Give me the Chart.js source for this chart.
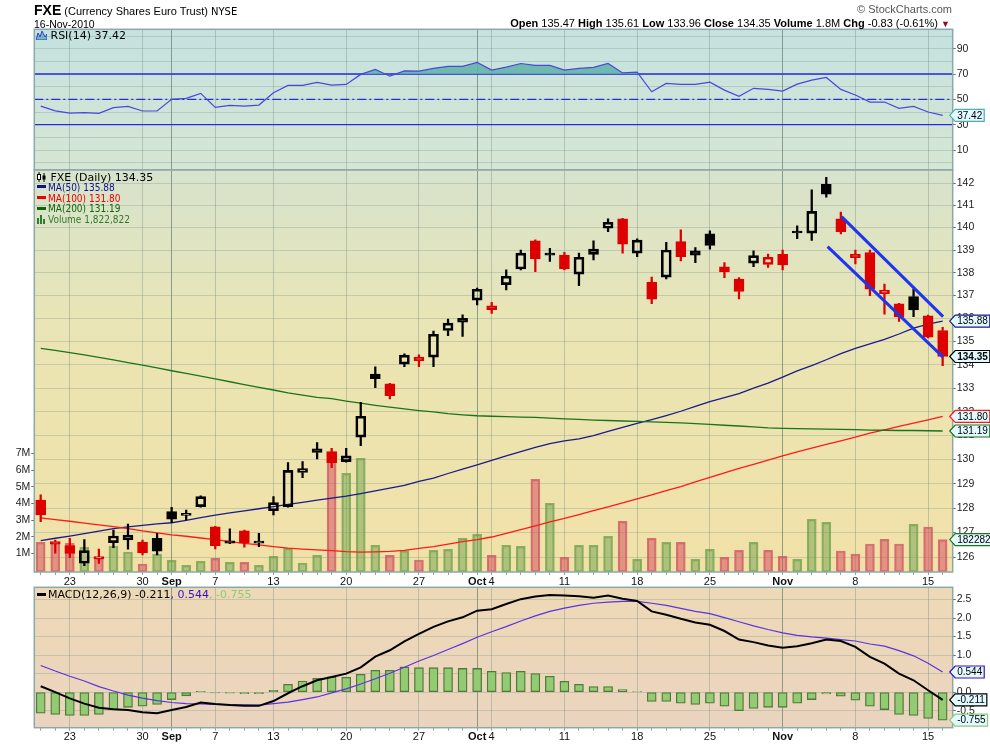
<!DOCTYPE html>
<html>
<head>
<meta charset="utf-8">
<title>FXE</title>
<script src="https://cdn.jsdelivr.net/npm/chart.js@4.4.0/dist/chart.umd.min.js"></script>
<style>
  body { margin:0; width:990px; height:744px; overflow:hidden; background:#fff; position:relative;
         font-family:"Liberation Sans", Arial, sans-serif; color:#000; }
  .pane { position:absolute; left:0; width:990px; }
  .t { position:absolute; white-space:nowrap; z-index:5; }
  .dv { font-family:"DejaVu Sans", Verdana, sans-serif; }
  .dc { font-family:"DejaVu Sans Condensed", "DejaVu Sans", sans-serif; font-size:10px; }
  .sw { display:inline-block; width:9px; height:3px; vertical-align:middle; margin-right:2px; position:relative; top:-1px; }
  .lg div { height:10.9px; line-height:10.9px; }
</style>
</head>
<body>
<div class="t" style="left:34px;top:2px;font-size:11px"><b style="font-size:14px">FXE</b> (Currency Shares Euro Trust) <span class="dv" style="font-size:10px">NYSE</span></div>
<div class="t" style="left:34px;top:18px;font-size:10.5px">16-Nov-2010</div>
<div class="t" style="right:38px;top:3px;font-size:11px;color:#555">&copy; StockCharts.com</div>
<div class="t" id="ohlc" style="right:40px;top:17px;font-size:11px"></div>

<div class="t dv" id="lgRsi" style="left:36px;top:29px;font-size:11px"></div>
<div class="t lg" id="lgPrice" style="left:37px;top:171.8px"></div>
<div class="t dv" id="lgMacd" style="left:37px;top:588px;font-size:11px"></div>

<div class="pane" style="top:0;height:171px"><canvas id="cRsi"></canvas></div>
<div class="pane" style="top:169px;height:430px"><canvas id="cPrice"></canvas></div>
<div class="pane" style="top:586px;height:158px"><canvas id="cMacd"></canvas></div>

<script>
// trading days shown
const days = ['Aug 19','Aug 20','Aug 23','Aug 24','Aug 25','Aug 26','Aug 27','Aug 30','Aug 31',
  'Sep 1','Sep 2','Sep 3','Sep 7','Sep 8','Sep 9','Sep 10','Sep 13','Sep 14','Sep 15','Sep 16','Sep 17',
  'Sep 20','Sep 21','Sep 22','Sep 23','Sep 24','Sep 27','Sep 28','Sep 29','Sep 30',
  'Oct 1','Oct 4','Oct 5','Oct 6','Oct 7','Oct 8','Oct 11','Oct 12','Oct 13','Oct 14','Oct 15',
  'Oct 18','Oct 19','Oct 20','Oct 21','Oct 22','Oct 25','Oct 26','Oct 27','Oct 28','Oct 29',
  'Nov 1','Nov 2','Nov 3','Nov 4','Nov 5','Nov 8','Nov 9','Nov 10','Nov 11','Nov 12','Nov 15','Nov 16'];

const xTickIdx = [2, 7, 9, 12, 16, 21, 26, 30, 31, 36, 41, 46, 51, 56, 61];
const xTickTxt = ['23','30','Sep','7','13','20','27','Oct','4','11','18','25','Nov','8','15'];
const monthNames = ['Sep','Oct','Nov'];

const opens = [128.33,126.53,126.47,125.76,125.94,126.59,126.70,126.61,126.77,127.85,
  127.70,128.06,127.23,126.57,127.07,126.57,127.89,128.06,129.46,130.44,
  130.33,129.91,130.93,133.60,133.18,134.02,134.33,134.32,135.47,136.00,
  136.79,136.54,137.47,138.16,139.41,138.83,138.78,137.93,138.81,139.97,
  140.39,138.86,137.58,137.80,139.37,138.96,139.72,138.26,137.72,138.42,
  138.36,138.81,139.82,139.75,141.95,140.39,138.82,138.89,137.08,136.63,
  136.95,136.11,135.47];
const highs = [128.54,126.70,126.77,126.72,126.33,127.10,127.35,126.70,126.97,128.03,
  127.92,128.50,127.25,127.15,127.10,126.97,128.47,129.87,129.91,130.70,
  130.47,130.47,132.40,133.91,133.20,134.46,134.42,135.45,135.97,136.15,
  137.32,136.70,138.12,139.00,139.45,139.08,138.90,138.86,139.41,140.39,
  140.42,139.50,137.80,139.34,139.90,139.11,139.85,138.44,137.78,138.96,
  138.82,139.00,140.08,141.70,142.27,140.69,139.00,139.00,137.49,136.65,
  137.28,136.14,135.61];
const lows = [127.44,126.17,125.99,125.66,125.75,126.39,126.33,126.10,126.10,127.40,
  127.51,128.04,126.34,126.55,126.41,126.43,127.72,128.04,129.25,130.02,
  129.66,129.89,130.58,133.02,132.54,133.91,133.91,133.91,135.25,135.21,
  136.58,136.21,137.24,138.12,138.04,138.49,138.12,137.43,138.56,139.82,
  138.86,138.70,136.64,137.72,138.52,138.44,139.04,137.78,136.85,138.26,
  138.23,138.12,139.50,139.43,141.37,139.72,138.38,136.99,136.18,135.86,
  136.07,135.15,133.96];
const closes = [127.72,126.63,126.16,126.27,126.03,126.86,126.90,126.19,126.25,127.54,
  127.76,128.47,126.47,126.67,126.57,126.65,128.22,129.55,129.62,130.29,
  129.87,130.15,131.81,133.40,132.68,134.41,134.17,135.31,135.79,135.83,
  137.27,136.38,137.84,138.86,138.61,138.77,138.16,138.68,139.04,140.24,
  139.26,139.44,136.83,139.00,138.71,138.77,139.20,138.04,137.17,138.75,
  138.68,138.34,139.76,140.73,141.50,139.82,138.66,137.27,137.23,136.07,
  136.37,135.18,134.35];
const priorClose = 128.30;

// volume, millions of shares
const volumeM = [1.66,1.66,1.60,1.36,0.70,1.44,1.08,0.36,0.96,0.58,
  0.28,0.52,0.70,0.46,0.46,0.28,0.82,1.30,0.42,0.88,
  7.04,5.80,6.70,1.48,0.88,1.16,0.60,1.18,1.24,1.90,
  2.14,0.88,1.48,1.42,5.44,4.00,0.76,1.48,1.48,2.02,
  2.92,0.64,1.90,1.66,1.66,0.64,1.24,0.76,1.18,1.66,
  1.18,0.82,0.64,3.04,2.86,1.14,0.96,1.56,1.84,1.56,
  2.74,2.58,1.822822];
const lastVolume = 1822822;

const ma50 = [126.67,126.77,126.86,126.96,127.06,127.16,127.23,127.29,127.35,127.40,
  127.50,127.61,127.71,127.80,127.88,127.97,128.06,128.15,128.23,128.32,
  128.41,128.49,128.59,128.70,128.82,128.93,129.09,129.23,129.42,129.60,
  129.78,129.96,130.15,130.33,130.51,130.66,130.78,130.86,131.00,131.17,
  131.34,131.51,131.67,131.84,132.02,132.23,132.43,132.60,132.77,133.00,
  133.21,133.47,133.73,133.96,134.21,134.47,134.70,134.89,135.09,135.32,
  135.57,135.75,135.88];
const ma100 = [127.60,127.53,127.46,127.38,127.31,127.24,127.16,127.07,126.99,126.91,
  126.85,126.78,126.71,126.63,126.56,126.50,126.43,126.37,126.33,126.30,
  126.27,126.23,126.21,126.22,126.24,126.28,126.36,126.43,126.53,126.63,
  126.71,126.82,126.97,127.12,127.27,127.43,127.58,127.73,127.89,128.05,
  128.21,128.37,128.54,128.71,128.88,129.07,129.26,129.45,129.63,129.80,
  129.97,130.15,130.32,130.47,130.63,130.78,130.93,131.10,131.24,131.38,
  131.52,131.66,131.80];
const ma200 = [134.70,134.61,134.52,134.42,134.31,134.21,134.09,133.98,133.86,133.74,
  133.63,133.51,133.39,133.27,133.15,133.03,132.92,132.80,132.70,132.61,
  132.55,132.45,132.36,132.27,132.19,132.12,132.05,131.99,131.92,131.87,
  131.83,131.81,131.79,131.77,131.76,131.73,131.70,131.68,131.65,131.63,
  131.61,131.59,131.57,131.55,131.53,131.50,131.47,131.43,131.40,131.36,
  131.32,131.30,131.29,131.28,131.27,131.26,131.25,131.23,131.22,131.21,
  131.21,131.20,131.19];

const rsi14 = [44.7,40.9,39.2,39.5,39.0,43.5,44.5,40.8,40.8,50.0,
  50.8,54.7,43.7,45.3,44.7,45.5,55.2,61.0,61.0,63.4,
  61.3,61.8,69.7,73.6,68.3,72.5,72.3,74.4,76.0,76.0,
  79.1,73.1,75.4,78.3,76.8,76.8,73.1,74.4,75.2,78.3,
  70.9,71.5,56.0,62.6,61.8,61.8,63.6,57.3,52.4,58.7,
  57.9,56.5,62.0,65.2,67.3,57.9,53.4,47.9,47.9,42.9,
  44.5,40.0,37.42];

const macdLine = [0.16,0.00,-0.17,-0.31,-0.42,-0.46,-0.48,-0.54,-0.57,-0.48,
  -0.40,-0.28,-0.32,-0.35,-0.37,-0.37,-0.24,-0.03,0.16,0.32,
  0.41,0.50,0.67,0.96,1.13,1.37,1.57,1.76,1.91,2.02,
  2.20,2.24,2.38,2.51,2.58,2.62,2.61,2.59,2.55,2.61,
  2.52,2.46,2.18,2.09,1.98,1.88,1.82,1.65,1.42,1.35,
  1.26,1.20,1.24,1.32,1.42,1.38,1.22,0.95,0.77,0.50,
  0.32,0.05,-0.211];
const macdSignal = [0.72,0.57,0.43,0.30,0.15,0.03,-0.08,-0.16,-0.23,-0.28,
  -0.31,-0.32,-0.33,-0.34,-0.34,-0.35,-0.31,-0.27,-0.20,-0.13,
  -0.02,0.09,0.22,0.36,0.51,0.67,0.84,0.99,1.15,1.31,
  1.48,1.63,1.77,1.92,2.06,2.18,2.27,2.34,2.40,2.43,
  2.45,2.45,2.40,2.34,2.26,2.18,2.12,2.01,1.90,1.79,
  1.69,1.60,1.53,1.49,1.46,1.42,1.38,1.30,1.24,1.12,
  0.98,0.78,0.544];
const macdHist = [-0.57,-0.60,-0.63,-0.63,-0.60,-0.47,-0.41,-0.38,-0.33,-0.20,
  -0.10,0.02,-0.02,-0.03,-0.04,-0.04,0.05,0.21,0.30,0.37,
  0.41,0.40,0.48,0.59,0.59,0.68,0.66,0.66,0.66,0.64,
  0.64,0.56,0.53,0.56,0.50,0.43,0.29,0.21,0.15,0.15,
  0.07,0.01,-0.25,-0.25,-0.30,-0.33,-0.30,-0.38,-0.50,-0.44,
  -0.41,-0.41,-0.30,-0.20,-0.05,-0.11,-0.22,-0.38,-0.47,-0.60,
  -0.63,-0.71,-0.755];

// hand-drawn channel (day index, price)
const channelUpper = [[55.05, 140.49], [62.03, 136.07]];
const channelLower = [[54.09, 139.15], [62.03, 134.32]];

const priceTicks = [126,127,128,129,130,131,132,133,134,135,136,137,138,139,140,141,142];
const volTicks = [1,2,3,4,5,6,7];
const rsiGrid = [0,10,20,30,40,50,60,70,80,90,100];
const rsiLabels = [10,30,50,70,90];
const macdTicks = [-0.5,0,0.5,1,1.5,2,2.5];

const C = {
  frame: '#8CA8A8',
  gridH: 'rgba(120,142,132,0.30)',
  gridV: 'rgba(120,142,132,0.40)',
  gridM: 'rgba(100,126,116,0.70)',
  red: '#DD0000', black: '#000000'
};

const last = days.length - 1;
const xs = days.map((d, i) => i);
const upDay = xs.map(i => closes[i] >= (i ? closes[i - 1] : priorClose));
const candleCol = upDay.map(u => (u ? C.black : C.red));
const pts = arr => xs.map(i => ({ x: i, y: arr[i] }));

// ---------- header + legends ----------
const chg = closes[last] - closes[last - 1];
document.getElementById('ohlc').innerHTML =
  '<b>Open</b> ' + opens[last].toFixed(2) + ' <b>High</b> ' + highs[last].toFixed(2) +
  ' <b>Low</b> ' + lows[last].toFixed(2) + ' <b>Close</b> ' + closes[last].toFixed(2) +
  ' <b>Volume</b> ' + volumeM[last].toFixed(1) + 'M <b>Chg</b> ' + chg.toFixed(2) +
  ' (' + (chg / closes[last - 1] * 100).toFixed(2) + '%) <span style="color:#8B0A2A;font-size:9px">&#9660;</span>';

document.getElementById('lgRsi').innerHTML =
  '<svg width="11" height="10" style="vertical-align:-1px"><path d="M0 10 L2 3 L4 7 L6 1 L9 7 L11 4 L11 10 Z" fill="#6DBDB5" stroke="#3A3ADC" stroke-width="1"/></svg> RSI(14) ' +
  rsi14[last].toFixed(2);

const fmtInt = n => String(n).replace(/\B(?=(\d{3})+(?!\d))/g, ',');
document.getElementById('lgPrice').innerHTML =
  '<div class="dv" style="font-size:11px"><svg width="10" height="10" style="vertical-align:-1px"><path d="M2 0v10M7 1v9" stroke="#000"/><rect x="0.5" y="2.5" width="3" height="5" fill="#fff" stroke="#000"/><rect x="5.5" y="3.5" width="3" height="4" fill="#000"/></svg> FXE (Daily) ' + closes[last].toFixed(2) + '</div>' +
  '<div class="dc" style="color:#101088"><span class="sw" style="background:#101088"></span>MA(50) ' + ma50[last].toFixed(2) + '</div>' +
  '<div class="dc" style="color:#EE0000"><span class="sw" style="background:#EE0000"></span>MA(100) ' + ma100[last].toFixed(2) + '</div>' +
  '<div class="dc" style="color:#0B650B"><span class="sw" style="background:#0B650B"></span>MA(200) ' + ma200[last].toFixed(2) + '</div>' +
  '<div class="dc" style="color:#2E7A2E"><svg width="9" height="9" style="vertical-align:-1px;margin-right:2px"><rect x="0" y="3" width="2" height="6" fill="#2E7A2E"/><rect x="3" y="0" width="2" height="9" fill="#2E7A2E"/><rect x="6" y="4" width="2" height="5" fill="#2E7A2E"/></svg>Volume ' + fmtInt(lastVolume) + '</div>';

document.getElementById('lgMacd').innerHTML =
  '<span class="sw" style="background:#000"></span>MACD(12,26,9) ' + macdLine[last].toFixed(3) +
  '<span style="color:#3311CC">, ' + macdSignal[last].toFixed(3) + '</span>' +
  '<span style="color:#8CCB78">, ' + macdHist[last].toFixed(3) + '</span>';

// ---------- plugins ----------
const panelBg = {
  id: 'panelBg',
  beforeDraw(chart, args, o) {
    const { ctx, chartArea: a } = chart;
    const g = ctx.createLinearGradient(0, a.top, 0, a.bottom);
    o.stops.forEach(s => g.addColorStop(s[0], s[1]));
    ctx.save();
    ctx.fillStyle = g;
    ctx.fillRect(a.left, a.top, a.width, a.height);
    ctx.restore();
  },
  afterDatasetsDraw(chart) {
    const { ctx, chartArea: a } = chart;
    ctx.save();
    ctx.strokeStyle = C.frame;
    ctx.lineWidth = 1.5;
    ctx.strokeRect(a.left, a.top, a.width, a.height);
    ctx.restore();
  }
};

const levels = {
  id: 'levels',
  beforeDatasetsDraw(chart, args, o) {
    const { ctx, chartArea: a } = chart;
    const s = chart.scales.y;
    o.lines.forEach(l => {
      const y = s.getPixelForValue(l.v);
      ctx.save();
      ctx.strokeStyle = l.c;
      ctx.lineWidth = 1.3;
      ctx.setLineDash(l.dash || []);
      ctx.beginPath();
      ctx.moveTo(a.left, y);
      ctx.lineTo(a.right, y);
      ctx.stroke();
      ctx.restore();
    });
  }
};

const tags = {
  id: 'tags',
  afterDraw(chart, args, o) {
    const { ctx, chartArea: a } = chart;
    o.items.forEach(t => {
      const y = chart.scales[t.axis].getPixelForValue(t.value);
      ctx.save();
      ctx.font = (t.bold ? 'bold ' : '') + '10px "Liberation Sans", Arial';
      const w = ctx.measureText(t.text).width + 4;
      const x0 = a.right - 3, x1 = a.right + 2.5, h = 6;
      ctx.beginPath();
      ctx.moveTo(x0, y);
      ctx.lineTo(x1, y - h);
      ctx.lineTo(x1 + w, y - h);
      ctx.lineTo(x1 + w, y + h);
      ctx.lineTo(x1, y + h);
      ctx.closePath();
      ctx.fillStyle = '#E2FAFF';
      ctx.fill();
      ctx.lineWidth = 1.2;
      ctx.strokeStyle = t.color;
      ctx.stroke();
      ctx.fillStyle = '#000';
      ctx.textBaseline = 'middle';
      ctx.fillText(t.text, x1 + 2, y + 0.5);
      ctx.restore();
    });
  }
};

// ---------- axes ----------
function xLabel(v) {
  const k = xTickIdx.indexOf(v);
  return k < 0 ? '' : xTickTxt[k];
}

function xAxis(show, h) {
  return {
    type: 'linear', min: -0.44, max: last + 0.69, offset: false,
    afterBuildTicks: s => { s.ticks = xs.map(v => ({ value: v })); },
    afterFit: s => { s.height = h; s.paddingLeft = 0; s.paddingRight = 0; },
    ticks: {
      display: show, autoSkip: false, maxRotation: 0, minRotation: 0, padding: 0, color: '#111',
      callback: v => xLabel(v),
      font: c => ({ family: 'Liberation Sans', size: 11,
        weight: c.tick && monthNames.includes(xLabel(c.tick.value)) ? 'bold' : 'normal' })
    },
    grid: {
      offset: false, drawTicks: show, tickLength: 3, lineWidth: 1, tickColor: '#8FA3A3',
      color: c => {
        const t = c.tick ? xLabel(c.tick.value) : '';
        if (t === '') return 'rgba(0,0,0,0)';
        return monthNames.includes(t) ? C.gridM : C.gridV;
      }
    },
    border: { display: false }
  };
}

function yAxis(o) {
  return {
    type: o.type || 'linear', position: o.pos || 'right', min: o.min, max: o.max,
    afterBuildTicks: s => { s.ticks = o.ticks.map(v => ({ value: v })); },
    afterFit: s => { s.width = o.width || 37.3; s.paddingTop = 0; s.paddingBottom = 0; },
    ticks: {
      autoSkip: false, padding: 1, color: '#222', font: { family: 'Liberation Sans', size: 10.5 },
      callback: v => (o.labels.includes(v) ? o.fmt(v) : '')
    },
    grid: {
      drawOnChartArea: o.grid !== false, color: C.gridH, lineWidth: 1, tickLength: 3,
      tickColor: c => (c.tick && o.labels.includes(c.tick.value) ? '#5E7070' : 'rgba(0,0,0,0)')
    },
    border: { display: false }
  };
}

const base = {
  responsive: true, maintainAspectRatio: false, animation: false, events: []
};

// ---------- RSI ----------
new Chart(document.getElementById('cRsi'), {
  type: 'line',
  data: {
    datasets: [{
      data: pts(rsi14),
      borderColor: '#4848DE', borderWidth: 1.2, pointRadius: 0, tension: 0,
      fill: { target: { value: 70 }, above: 'rgba(96,178,168,0.85)', below: 'rgba(0,0,0,0)' }
    }]
  },
  options: Object.assign({}, base, {
    layout: { autoPadding: false, padding: { left: 34.3, right: 0, top: 29.3, bottom: 1 } },
    plugins: {
      legend: { display: false }, tooltip: { enabled: false },
      panelBg: { stops: [[0, '#C5E2E0'], [1, '#D6E6D3']] },
      levels: { lines: [
        { v: 70, c: '#2A2AD8' },
        { v: 50, c: '#2A2AD8', dash: [9, 3, 2, 3] },
        { v: 30, c: '#2A2AD8' }
      ] },
      tags: { items: [{ axis: 'y', value: rsi14[last], text: rsi14[last].toFixed(2), color: '#4AAFAF' }] }
    },
    scales: {
      x: xAxis(false, 0),
      y: yAxis({ min: -5.75, max: 105.3, ticks: rsiGrid, labels: rsiLabels, fmt: v => String(v) })
    }
  }),
  plugins: [panelBg, levels, tags]
});

// ---------- price + volume ----------
const VOL_MIN = -0.12;
const lineDs = (arr, col, ord) => ({
  type: 'line', yAxisID: 'y', data: pts(arr), borderColor: col, borderWidth: 1.3,
  pointRadius: 0, tension: 0, fill: false, order: ord
});
const chanDs = seg => ({
  type: 'line', yAxisID: 'y', data: seg.map(p => ({ x: p[0], y: p[1] })),
  borderColor: '#1F36EE', borderWidth: 3, pointRadius: 0, fill: false, order: 0
});

new Chart(document.getElementById('cPrice'), {
  type: 'line',
  data: {
    datasets: [
      {
        type: 'bar', yAxisID: 'yv', data: pts(volumeM), base: VOL_MIN,
        backgroundColor: upDay.map(u => (u ? 'rgba(112,162,80,0.50)' : 'rgba(212,84,94,0.55)')),
        borderColor: upDay.map(u => (u ? 'rgba(104,158,72,0.75)' : 'rgba(208,86,102,0.80)')),
        borderWidth: 1.5, borderSkipped: false, barThickness: 9, grouped: false, order: 10
      },
      lineDs(ma200, '#1B731B', 6),
      lineDs(ma100, '#FF1A1A', 6),
      lineDs(ma50, '#1A1A8C', 6),
      {
        type: 'bar', yAxisID: 'y',
        data: xs.map(i => ({ x: i, y: [lows[i], Math.min(opens[i], closes[i])] })),
        backgroundColor: candleCol, barThickness: 1.6, grouped: false, order: 3
      },
      {
        type: 'bar', yAxisID: 'y',
        data: xs.map(i => ({ x: i, y: [Math.max(opens[i], closes[i]), highs[i]] })),
        backgroundColor: candleCol, barThickness: 1.6, grouped: false, order: 3
      },
      {
        type: 'bar', yAxisID: 'y',
        data: xs.map(i => ({ x: i, y: [opens[i], closes[i]] })),
        backgroundColor: xs.map(i => (closes[i] > opens[i] ? 'rgba(0,0,0,0)' : candleCol[i])),
        borderColor: candleCol, borderWidth: 2, borderSkipped: false,
        barThickness: 10, minBarLength: 2, grouped: false, order: 2
      },
      chanDs(channelUpper),
      chanDs(channelLower)
    ]
  },
  options: Object.assign({}, base, {
    layout: { autoPadding: false, padding: { left: 0, right: 0, top: 1, bottom: 7 } },
    plugins: {
      legend: { display: false }, tooltip: { enabled: false },
      panelBg: { stops: [[0, '#D7E3CD'], [0.4, '#EAE5B4'], [1, '#F1E1A7']] },
      tags: { items: [
        { axis: 'y', value: ma50[last], text: ma50[last].toFixed(2), color: '#1A1A8C' },
        { axis: 'y', value: closes[last], text: closes[last].toFixed(2), color: '#000', bold: true },
        { axis: 'y', value: ma100[last], text: ma100[last].toFixed(2), color: '#FF1A1A' },
        { axis: 'y', value: ma200[last], text: ma200[last].toFixed(2), color: '#1B731B' },
        { axis: 'yv', value: volumeM[last], text: '182282', color: '#1B731B' }
      ] }
    },
    scales: {
      x: xAxis(true, 20),
      y: yAxis({ type: 'logarithmic', min: 125.41, max: 142.60, ticks: priceTicks, labels: priceTicks, fmt: v => String(v) }),
      yv: yAxis({ pos: 'left', min: VOL_MIN, max: 24.0, ticks: volTicks, labels: volTicks, fmt: v => v + 'M', grid: false, width: 34.3 })
    }
  }),
  plugins: [panelBg, tags]
});

// ---------- MACD ----------
new Chart(document.getElementById('cMacd'), {
  type: 'line',
  data: {
    datasets: [
      {
        type: 'bar', data: pts(macdHist), backgroundColor: '#93CB74', borderColor: '#4F7A37',
        borderWidth: 1.3, borderSkipped: false, barThickness: 9, grouped: false, order: 3
      },
      { type: 'line', data: pts(macdSignal), borderColor: '#5A33E0', borderWidth: 1.2, pointRadius: 0, tension: 0, fill: false, order: 2 },
      { type: 'line', data: pts(macdLine), borderColor: '#000', borderWidth: 2, pointRadius: 0, tension: 0, fill: false, order: 1 }
    ]
  },
  options: Object.assign({}, base, {
    layout: { autoPadding: false, padding: { left: 34.3, right: 0, top: 1.3, bottom: 2.3 } },
    plugins: {
      legend: { display: false }, tooltip: { enabled: false },
      panelBg: { stops: [[0, '#EED9B6'], [1, '#EBD4BF']] },
      tags: { items: [
        { axis: 'y', value: macdSignal[last], text: macdSignal[last].toFixed(3), color: '#3311CC' },
        { axis: 'y', value: macdLine[last], text: macdLine[last].toFixed(3), color: '#000' },
        { axis: 'y', value: macdHist[last], text: macdHist[last].toFixed(3), color: '#8CCB78' }
      ] }
    },
    scales: {
      x: xAxis(true, 14),
      y: yAxis({ min: -0.96, max: 2.83, ticks: macdTicks, labels: macdTicks, fmt: v => v.toFixed(1) })
    }
  }),
  plugins: [panelBg, tags]
});
</script>
</body>
</html>
